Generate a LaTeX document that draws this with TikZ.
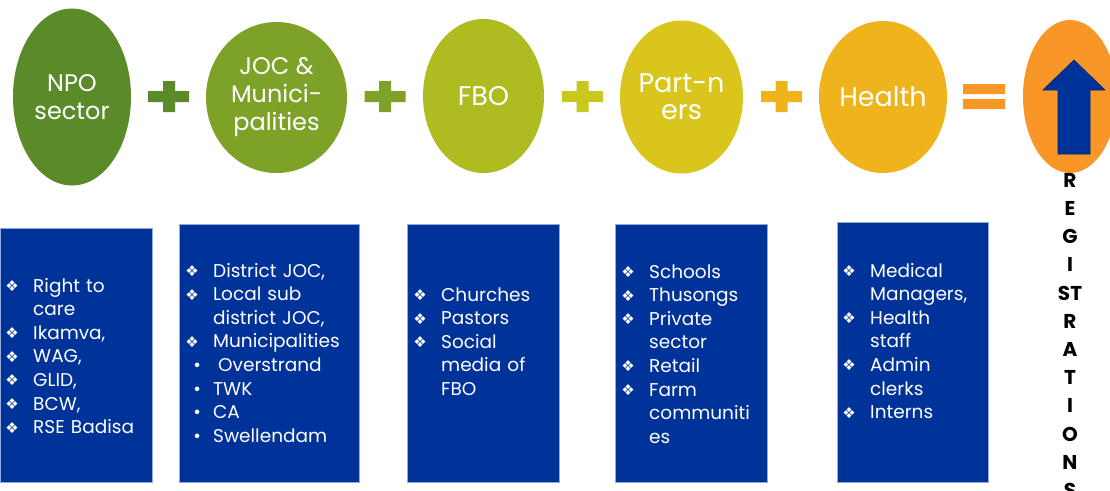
\documentclass[tikz,border=0pt]{standalone}
\usepackage{fontspec}
\setmainfont{Poppins}
\newfontfamily\symfont{DejaVu Sans}
\usetikzlibrary{shapes.geometric}

\definecolor{npogreen}{RGB}{91,138,41}
\definecolor{jocgreen}{RGB}{126,161,40}
\definecolor{fbogreen}{RGB}{174,188,33}
\definecolor{pluslime}{RGB}{199,201,30}
\definecolor{partyellow}{RGB}{217,197,28}
\definecolor{healthamber}{RGB}{239,179,28}
\definecolor{regorange}{RGB}{248,150,40}
\definecolor{boxblue}{RGB}{0,51,153}
\definecolor{boxedge}{RGB}{143,170,220}

\newcommand{\dmd}{\makebox[0pt][c]{\raisebox{0.5pt}{\symfont\fontsize{15}{15}\selectfont ❖}}\hspace*{21pt}}
\newcommand{\nxt}{\hspace*{21pt}}
\newcommand{\rnd}{\hspace*{5pt}\makebox[0pt][c]{•}\hspace*{16pt}}

\begin{document}
\begin{tikzpicture}[x=1pt,y=-1pt,
  oval/.style={ellipse,inner sep=0pt,text=white,align=center,font=\fontsize{24}{28}\selectfont},
  bigoval/.style={oval,font=\fontsize{27}{27}\selectfont},
  bluebox/.style={rectangle,fill=boxblue,draw=boxedge,line width=0.8pt,inner sep=0pt},
  listtext/.style={anchor=base west,inner sep=0pt,text=white,text width=170pt,align=left,font=\fontsize{18.5}{23.6}\selectfont}]

\path[use as bounding box,fill=white] (0,0) rectangle (1110,490);
\clip (0,0) rectangle (1110,490);

\node[oval,fill=npogreen,minimum width=118pt,minimum height=177pt] (npo) at (72,97) {NPO\\sector};
\node[oval,fill=jocgreen,minimum width=141pt,minimum height=151pt] (joc) at (276.5,97.5) {JOC \&\\Munici-\\palities};
\node[bigoval,fill=fbogreen,minimum width=121pt,minimum height=154pt] (fbo) at (483.5,96) {FBO};
\node[bigoval,fill=partyellow,minimum width=123pt,minimum height=153pt] (partners) at (681.5,97) {Part-n\\ers};
\node[bigoval,fill=healthamber,minimum width=128pt,minimum height=152pt] (health) at (883,97) {Health};
\node[ellipse,inner sep=0pt,fill=regorange,minimum width=94pt,minimum height=153pt] (reg) at (1070,96.5) {};

\fill[npogreen] (148,91) rectangle ++(41,11) (163,81) rectangle ++(12,31);
\fill[jocgreen] (364.5,91) rectangle ++(41,11) (379,81) rectangle ++(12,31);
\fill[pluslime] (562,91) rectangle ++(41,11) (576.5,81) rectangle ++(12,31);
\fill[healthamber] (761,91) rectangle ++(41,11) (775.5,81) rectangle ++(12,31);
\fill[regorange] (963,84) rectangle (1005,94) (963,99) rectangle (1005,109);

\fill[boxblue,draw=boxblue!70!black,line width=0.6pt] (1058,154) -- (1058,90) -- (1043,90) -- (1074,60)
  -- (1105,90) -- (1090,90) -- (1090,154) -- cycle;

\node[inner sep=0pt,anchor=north,align=center,font=\fontsize{20}{28.2}\selectfont\bfseries] (regtxt) at (1070,173)
  {R\\E\\G\\I\\ST\\R\\A\\T\\I\\O\\N\\S};

\node[bluebox,minimum width=152pt,minimum height=254pt] (b1) at (76,355) {};
\node[bluebox,minimum width=180pt,minimum height=258pt] (b2) at (269,353) {};
\node[bluebox,minimum width=152pt,minimum height=258pt] (b3) at (483,353) {};
\node[bluebox,minimum width=152pt,minimum height=258pt] (b4) at (691,353) {};
\node[bluebox,minimum width=151pt,minimum height=260pt] (b5) at (912.5,352) {};

\node[listtext] (t1) at (12,292) {\dmd Right to\\\nxt care\\\dmd Ikamva,\\\dmd WAG,\\\dmd GLID,\\\dmd BCW,\\\dmd RSE Badisa};
\node[listtext] (t2) at (192,277) {\dmd District JOC,\\\dmd Local sub\\\nxt district JOC,\\\dmd Municipalities\\\rnd\hspace{5pt}Overstrand\\\rnd TWK\\\rnd CA\\\rnd Swellendam};
\node[listtext] (t3) at (420,301) {\dmd Churches\\\dmd Pastors\\\dmd Social\\\nxt media of\\\nxt FBO};
\node[listtext] (t4) at (628,278) {\dmd Schools\\\dmd Thusongs\\\dmd Private\\\nxt sector\\\dmd Retail\\\dmd Farm\\\nxt communiti\\\nxt es};
\node[listtext] (t5) at (849,277) {\dmd Medical\\\nxt Managers,\\\dmd Health\\\nxt staff\\\dmd Admin\\\nxt clerks\\\dmd Interns};

\end{tikzpicture}
\end{document}
